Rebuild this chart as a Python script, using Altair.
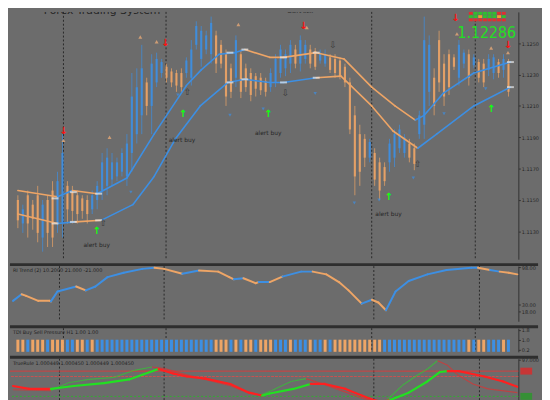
import altair as alt
import pandas as pd

# ---------------- colours / sizes ----------------
BG = "#6c6c6c"
BLUE = "#3d8fe3"
ORANGE = "#eea566"
RED = "#ff2020"
GREEN = "#22e022"
DARK = "#2e2e2e"
W = 516
H1, H2, H3, H4 = 251, 56, 24, 42

# ---------------- price candles (bar index 0..99) ----------------
highs = [1.1153, 1.1147, 1.1156, 1.1150, 1.1159, 1.1150, 1.1153, 1.1162, 1.1168, 1.1192,
         1.1162, 1.1159, 1.1156, 1.1153, 1.1153, 1.1156, 1.1162, 1.1180, 1.1183, 1.1180,
         1.1177, 1.1183, 1.1192, 1.1231, 1.1234, 1.1249, 1.1228, 1.1243, 1.1244, 1.1240,
         1.1237, 1.1234, 1.1233, 1.1234, 1.1241, 1.1252, 1.1264, 1.1261, 1.1258, 1.1267,
         1.1258, 1.1252, 1.1246, 1.1237, 1.1255, 1.1246, 1.1237, 1.1234, 1.1231, 1.1231,
         1.1228, 1.1234, 1.1243, 1.1249, 1.1246, 1.1252, 1.1249, 1.1255, 1.1252, 1.1249,
         1.1247, 1.1246, 1.1246, 1.1243, 1.1243, 1.1241, 1.1237, 1.1228, 1.1210, 1.1198,
         1.1192, 1.1189, 1.1183, 1.1177, 1.1174, 1.1189, 1.1195, 1.1198, 1.1192, 1.1189,
         1.1186, 1.1207, 1.1267, 1.1255, 1.1234, 1.1258, 1.1243, 1.1246, 1.1243, 1.1252,
         1.1246, 1.1246, 1.1243, 1.1240, 1.1240, 1.1243, 1.1243, 1.1240, 1.1243, 1.1240]
lows = [1.1132, 1.1129, 1.1126, 1.1131, 1.1123, 1.1117, 1.1120, 1.1120, 1.1129, 1.1126,
        1.1135, 1.1135, 1.1135, 1.1138, 1.1135, 1.1141, 1.1144, 1.1150, 1.1153, 1.1159,
        1.1162, 1.1165, 1.1159, 1.1168, 1.1186, 1.1192, 1.1204, 1.1192, 1.1222, 1.1228,
        1.1225, 1.1222, 1.1219, 1.1219, 1.1228, 1.1223, 1.1246, 1.1235, 1.1243, 1.1237,
        1.1231, 1.1234, 1.1210, 1.1215, 1.1222, 1.1215, 1.1219, 1.1213, 1.1216, 1.1217,
        1.1216, 1.1219, 1.1222, 1.1228, 1.1229, 1.1231, 1.1234, 1.1232, 1.1237, 1.1234,
        1.1233, 1.1237, 1.1235, 1.1231, 1.1228, 1.1227, 1.1222, 1.1192, 1.1153, 1.1159,
        1.1171, 1.1174, 1.1159, 1.1150, 1.1159, 1.1168, 1.1171, 1.1180, 1.1177, 1.1174,
        1.1169, 1.1189, 1.1189, 1.1210, 1.1204, 1.1219, 1.1210, 1.1217, 1.1233, 1.1223,
        1.1234, 1.1223, 1.1234, 1.1225, 1.1222, 1.1229, 1.1227, 1.1228, 1.1228, 1.1216]
opens = [1.1150, 1.1135, 1.1153, 1.1147, 1.1153, 1.1126, 1.1150, 1.1156, 1.1135, 1.1135,
         1.1159, 1.1155, 1.1153, 1.1151, 1.1150, 1.1144, 1.1150, 1.1156, 1.1159, 1.1163,
         1.1165, 1.1168, 1.1165, 1.1180, 1.1192, 1.1204, 1.1225, 1.1210, 1.1225, 1.1231,
         1.1235, 1.1232, 1.1231, 1.1231, 1.1231, 1.1228, 1.1249, 1.1240, 1.1246, 1.1243,
         1.1255, 1.1249, 1.1243, 1.1234, 1.1228, 1.1243, 1.1234, 1.1231, 1.1229, 1.1228,
         1.1226, 1.1222, 1.1225, 1.1231, 1.1234, 1.1237, 1.1246, 1.1237, 1.1240, 1.1246,
         1.1245, 1.1239, 1.1237, 1.1241, 1.1240, 1.1239, 1.1235, 1.1225, 1.1204, 1.1192,
         1.1189, 1.1177, 1.1180, 1.1174, 1.1171, 1.1174, 1.1177, 1.1183, 1.1180, 1.1186,
         1.1183, 1.1192, 1.1198, 1.1219, 1.1228, 1.1252, 1.1237, 1.1243, 1.1241, 1.1228,
         1.1237, 1.1243, 1.1236, 1.1238, 1.1237, 1.1233, 1.1231, 1.1238, 1.1233, 1.1237]
closes = [1.1137, 1.1144, 1.1135, 1.1138, 1.1129, 1.1147, 1.1129, 1.1126, 1.1162, 1.1180,
          1.1144, 1.1143, 1.1141, 1.1143, 1.1141, 1.1153, 1.1159, 1.1174, 1.1177, 1.1174,
          1.1174, 1.1180, 1.1186, 1.1216, 1.1222, 1.1234, 1.1210, 1.1237, 1.1240, 1.1238,
          1.1228, 1.1225, 1.1223, 1.1222, 1.1239, 1.1246, 1.1261, 1.1258, 1.1255, 1.1263,
          1.1237, 1.1237, 1.1216, 1.1219, 1.1252, 1.1219, 1.1222, 1.1217, 1.1221, 1.1220,
          1.1219, 1.1231, 1.1240, 1.1246, 1.1243, 1.1249, 1.1237, 1.1252, 1.1249, 1.1237,
          1.1235, 1.1244, 1.1243, 1.1233, 1.1231, 1.1229, 1.1225, 1.1195, 1.1165, 1.1168,
          1.1177, 1.1187, 1.1163, 1.1156, 1.1162, 1.1186, 1.1192, 1.1195, 1.1190, 1.1177,
          1.1173, 1.1204, 1.1252, 1.1249, 1.1210, 1.1225, 1.1216, 1.1222, 1.1235, 1.1249,
          1.1244, 1.1228, 1.1241, 1.1228, 1.1225, 1.1240, 1.1241, 1.1231, 1.1240, 1.1219]
price_ticks = [1.1130, 1.1140, 1.1150, 1.1160, 1.1170, 1.1180, 1.1190, 1.1200,
               1.1210, 1.1220, 1.1230, 1.1240, 1.1250, 1.1260]
day_breaks = [9.2, 29.9, 71.4, 92.3]

# bands: vertices + colour of each segment (B blue / O orange)
ub_i = [0, 8, 11, 16, 22, 27.5, 34, 37, 40.6, 43.7, 45.8, 50.8, 53.6, 60.2, 65.8, 71.4, 76.1, 80.2, 82, 85.8, 92, 99.4]
ub_v = [1.1156, 1.1152, 1.1156, 1.1154, 1.1164, 1.1192, 1.1223, 1.1233, 1.1243, 1.1244, 1.1246,
        1.1241, 1.1241, 1.1244, 1.1240, 1.1222, 1.1210, 1.1201, 1.1204, 1.1218, 1.1231, 1.1238]
ub_c = "OBOBBBBBBBOOOOOOOBBBB"
lb_i = [0, 8, 11.6, 16.8, 23.2, 27.5, 31.8, 36.8, 42.4, 45.8, 50.8, 53.6, 60.2, 65.2, 71.4, 75.7, 80.7, 84.5, 92, 99.4]
lb_v = [1.1141, 1.1135, 1.1136, 1.1137, 1.1147, 1.1165, 1.1189, 1.1210, 1.1225, 1.1227,
        1.1225, 1.1225, 1.1228, 1.1229, 1.1210, 1.1194, 1.1183, 1.1192, 1.1210, 1.1222]
lb_c = "OBOBBBBBBBBBOOOOBBB"
white_i = [7.5, 11.2, 16.3, 42.8, 45.8, 53.6, 60.2, 99.4, 7.5, 11.2, 16.3, 42.8, 45.8, 53.6, 60.2, 99.4]
white_v = [1.1151, 1.1155, 1.1154, 1.1244, 1.1246, 1.1241, 1.1244, 1.1238,
           1.1135, 1.1136, 1.1137, 1.1225, 1.1227, 1.1225, 1.1228, 1.1222]

# signal markers
tan_i = [24.7, 28, 44.5, 58.3, 88.6, 95.5, 98.9, 9.2, 18.5]
tan_v = [1.1254, 1.1251, 1.1262, 1.1260, 1.1256, 1.1247, 1.1244, 1.1188, 1.1190]
bdn_i = [32.3, 42.8, 49.5, 60, 86, 94.4, 22.8, 67.9, 72.9, 79.8]
bdn_v = [1.1217, 1.1204, 1.1208, 1.1218, 1.1205, 1.1221, 1.1155, 1.1148, 1.1150, 1.1164]
red_i = [9.2, 29.7, 57.6, 88.3, 98.9]
red_v = [1.1194, 1.1250, 1.1261, 1.1266, 1.1249]
grn_i = [15.9, 33.3, 50.5, 74.8, 95.5]
grn_v = [1.1130, 1.1205, 1.1205, 1.1152, 1.1208]
alert_i = [15.9, 33.1, 50.5, 74.8]
alert_v = [1.1121, 1.1188, 1.1193, 1.1141]
hol_i = [17.2, 34.2, 54, 63.6, 80.7]
hol_v = [1.1135, 1.1219, 1.1218, 1.1249, 1.1173]
hol_t = ["⇧", "⇧", "⇩", "⇩", "⇧"]
last_price = "1.12286"

# status grid (3 rows x 8 cells) top-right
cell_x0 = [91.0, 91.95, 92.9, 93.85, 94.8, 95.75, 96.7, 97.65]
row_top = [1.12700, 1.12679, 1.12658]
row_bot = [1.12682, 1.12661, 1.12640]
cell_cols = [["#e03030", "#30c030", "#30c030", "#30c030", "#30c030", "#30c030", "#e03030", "#e03030"],
             ["#30c030", "#30c030", "#f0a030", "#30c030", "#30c030", "#30c030", "#f0a030", "#30c030"],
             ["#e03030", "#e03030", "#e03030", "#e03030", "#e03030", "#e03030", "#e03030", "#e03030"]]

# ---------------- sub-window 1: trend line ----------------
p2_i = [0, 1.7, 2.6, 5, 7.3, 7.5, 8.8, 12.5, 14.4, 16.3, 18.7, 21.9, 25.6, 28, 29.9, 33.5, 36.8, 40.6,
        42.8, 43.7, 45.6, 48, 48.6, 50.8, 53.3, 57, 59.3, 62, 64.5, 66.4, 69, 71, 72.3, 73.8, 75.7, 78.3,
        82, 85.8, 90.7, 92, 94.4, 96.3, 98.1, 99.8]
p2_v = [37, 49, 46, 37, 37, 36, 54, 63, 56, 63, 80, 88, 95, 97, 95, 86, 92, 90, 80, 76, 78, 69, 71, 71,
        81, 90, 90, 85, 71, 56, 32, 39, 34, 20, 54, 73, 85, 93, 97, 97, 93, 90, 88, 85]
p2_c = "BOOOOBBOBBBBBOOBOOOBOOBOBBOOOOBOOBBBBBBOBOO"

# ---------------- sub-window 2: buy/sell pressure ----------------
press = ("OOBOOOBOOO" "BBOOBOBBBB" "BBBBBBBBBB" "BBBBBBBBBB" "OOOBOBOOBO"
         "OOBBBOBBBO" "BBOBOOOOOO" "OOOOBBBBBB" "BBBBBBBBBB" "BOBOOBBBOB")

# ---------------- sub-window 3: oscillator ----------------
p4_i = [0, 3.2, 7.5, 12, 18, 23, 25.6, 28.8, 31.8, 34.4, 38.1, 43, 46.7, 49.3, 50.8, 55.5, 58.9, 61.7,
        65.8, 69, 71.4, 73.3, 74.6, 78.3, 82, 84.5, 86, 88.2, 93.3, 97, 99.8]
p4_v = [34, 27, 27, 34, 41, 50, 61, 75, 64, 57, 52, 39, 18, 11, 16, 27, 39, 39, 27, 11, 0, -5, 0, 18,
        45, 68, 70, 70, 57, 45, 32]
p4_c = "RRGGGGGRRRRRRGGGRRRRRRGGGGRRRR"
f_i = [0, 7.5, 11, 15, 20, 24, 27.5, 30, 34, 38, 43, 46, 49, 51, 55, 58, 61, 65, 69, 72, 74, 77, 80,
       82, 84, 86, 88, 91, 94, 99.8]
f_v = [25, 23, 42, 50, 55, 72, 80, 76, 62, 50, 35, 20, 12, 22, 45, 52, 40, 23, 5, -5, 0, 35, 60, 75,
       95, 84, 61, 39, 27, 18]
f_c = "RGGGGGRRRRRRGGGRRRRRGGGGRRRRR"
levels = [70, 57, 9]

# ---------------- helpers ----------------
CMAP = {"B": BLUE, "O": ORANGE, "R": RED, "G": GREEN}
xs = alt.Scale(domain=[-0.6, 100], nice=False, zero=False)


def X(f="i"):
    return alt.X(f + ":Q", scale=xs, axis=None)


def seg_table(xv, yv, cv):
    rows = []
    for k, c in enumerate(cv):
        for j in (k, k + 1):
            rows.append({"i": xv[j], "v": yv[j], "seg": k, "c": CMAP[c]})
    return pd.DataFrame(rows)


def axis(values, fmt):
    return alt.Axis(orient="right", values=values, format=fmt, title=None, grid=False,
                    labelFontSize=5, labelColor="#262626", tickSize=2, tickColor="#333",
                    domainColor="#333", labelPadding=1, labelFont="DejaVu Sans")


def day_rules(ys):
    return alt.Chart(pd.DataFrame({"i": day_breaks})).mark_rule(
        color="#2a2a2a", strokeDash=[2, 2], strokeWidth=1).encode(x=X())


def separator():
    return alt.Chart(pd.DataFrame({"a": [0]})).mark_rule(color=DARK, strokeWidth=3).encode(
        x=alt.value(0), x2=alt.value(W + 20), y=alt.value(-1.5))


def label(txt):
    return alt.Chart(pd.DataFrame({"t": [txt]})).mark_text(
        align="left", baseline="top", fontSize=5, color="#222", font="DejaVu Sans").encode(
        x=alt.value(3), y=alt.value(2), text="t:N")


# ---------------- main price panel ----------------
ys1 = alt.Scale(domain=[1.11122, 1.1270], nice=False, zero=False)
cd = pd.DataFrame({"i": list(range(100)), "open": opens, "close": closes, "high": highs, "low": lows})
cd["dir"] = ["up" if c > o else "down" for o, c in zip(opens, closes)]
ccol = alt.Color("dir:N", scale=alt.Scale(domain=["up", "down"], range=[BLUE, ORANGE]), legend=None)

wicks = alt.Chart(cd).mark_rule(strokeWidth=1, opacity=0.7).encode(
    x=X(), y=alt.Y("low:Q", scale=ys1, axis=axis(price_ticks, ".4f")), y2="high:Q", color=ccol)
bodies = alt.Chart(cd).mark_bar(size=2.2, opacity=0.85).encode(
    x=X(), y=alt.Y("open:Q", scale=ys1), y2="close:Q", color=ccol)


def band(xv, yv, cv, sw=1.6):
    return alt.Chart(seg_table(xv, yv, cv)).mark_line(strokeWidth=sw, strokeCap="round").encode(
        x=X(), y=alt.Y("v:Q", scale=ys1), detail="seg:N", color=alt.Color("c:N", scale=None))


whites = alt.Chart(pd.DataFrame({"i": white_i, "v": white_v})).mark_tick(
    orient="horizontal", size=7, thickness=2, color="#e8e8e8").encode(x=X(), y=alt.Y("v:Q", scale=ys1))

tans = alt.Chart(pd.DataFrame({"i": tan_i, "v": tan_v})).mark_point(
    shape="triangle-up", filled=True, size=16, color="#d9a276", opacity=0.9).encode(
    x=X(), y=alt.Y("v:Q", scale=ys1))
bdns = alt.Chart(pd.DataFrame({"i": bdn_i, "v": bdn_v})).mark_point(
    shape="triangle-down", filled=True, size=12, color=BLUE).encode(x=X(), y=alt.Y("v:Q", scale=ys1))
reds = alt.Chart(pd.DataFrame({"i": red_i, "v": red_v, "t": ["↓"] * len(red_i)})).mark_text(
    fontSize=10, fontWeight="bold", color="#ff1010", font="DejaVu Sans").encode(
    x=X(), y=alt.Y("v:Q", scale=ys1), text="t:N")
grns = alt.Chart(pd.DataFrame({"i": grn_i, "v": grn_v, "t": ["↑"] * len(grn_i)})).mark_text(
    fontSize=10, fontWeight="bold", color="#10ff10", font="DejaVu Sans").encode(
    x=X(), y=alt.Y("v:Q", scale=ys1), text="t:N")
alerts = alt.Chart(pd.DataFrame({"i": alert_i, "v": alert_v, "t": ["alert buy"] * len(alert_i)})).mark_text(
    fontSize=6, color="#262626", font="DejaVu Sans").encode(x=X(), y=alt.Y("v:Q", scale=ys1), text="t:N")
hollow = alt.Chart(pd.DataFrame({"i": hol_i, "v": hol_v, "t": hol_t})).mark_text(
    fontSize=9, color="#3a3a3a", font="DejaVu Sans").encode(x=X(), y=alt.Y("v:Q", scale=ys1), text="t:N")
tops = alt.Chart(pd.DataFrame({"i": [17.0, 57.0], "v": [1.12705, 1.12705],
                               "t": ["Forex Trading System", "alert sell"], "s": [11, 6]})).mark_text(
    baseline="middle", color="#262626", font="DejaVu Sans", clip=True).encode(
    x=X(), y=alt.Y("v:Q", scale=ys1), text="t:N", size=alt.Size("s:Q", scale=None, legend=None))

cells = []
for r in range(3):
    for c in range(8):
        cells.append({"x0": cell_x0[c], "x1": cell_x0[c] + 0.8, "y0": row_top[r], "y1": row_bot[r],
                      "col": cell_cols[r][c]})
grid = alt.Chart(pd.DataFrame(cells)).mark_rect().encode(
    x=alt.X("x0:Q", scale=xs, axis=None), x2="x1:Q", y=alt.Y("y0:Q", scale=ys1), y2="y1:Q",
    color=alt.Color("col:N", scale=None))
bigprice = alt.Chart(pd.DataFrame({"i": [94.6], "v": [1.12565], "t": [last_price]})).mark_text(
    fontSize=16, color="#22e022", font="DejaVu Sans Condensed, Liberation Sans Narrow, sans-serif").encode(
    x=X(), y=alt.Y("v:Q", scale=ys1), text="t:N")

main = alt.layer(day_rules(ys1), wicks, bodies, band(ub_i, ub_v, ub_c), band(lb_i, lb_v, lb_c),
                 whites, tans, bdns, reds, grns, alerts, hollow, tops, grid, bigprice).properties(
    width=W, height=H1)

# ---------------- panel 2 ----------------
ys2 = alt.Scale(domain=[0, 100], nice=False)
t2 = seg_table(p2_i, p2_v, p2_c)
line2 = alt.Chart(t2).mark_line(strokeWidth=2, strokeCap="round").encode(
    x=X(), y=alt.Y("v:Q", scale=ys2, axis=axis([98, 30, 18], ".2f")), detail="seg:N",
    color=alt.Color("c:N", scale=None))
panel2 = alt.layer(day_rules(ys2), line2, label("RI Trend (2) 10.2000 21.000 -21.000"),
                   separator()).properties(width=W, height=H2)

# ---------------- panel 3 ----------------
ys3 = alt.Scale(domain=[0, 1.95], nice=False)
pdf = pd.DataFrame({"i": list(range(100)), "h": [1.0] * 100, "c": [CMAP[ch] for ch in press]})
bars3 = alt.Chart(pdf).mark_bar(size=3).encode(
    x=X(), y=alt.Y("h:Q", scale=ys3, axis=axis([0.2, 1.0, 1.8], ".1f")), color=alt.Color("c:N", scale=None))
panel3 = alt.layer(day_rules(ys3), bars3, label("TDI Buy Sell Pressure H1 1.00 1.00"),
                   separator()).properties(width=W, height=H3)

# ---------------- panel 4 ----------------
ys4 = alt.Scale(domain=[0, 100], nice=False)
lv = pd.DataFrame({"v": levels, "c": ["#e03a3a", "#c85050", "#30b030"], "d": ["s", "f", "d"]})
lvl = alt.Chart(lv).mark_rule(strokeWidth=1).encode(
    y=alt.Y("v:Q", scale=ys4, axis=axis([97], ".3f")), color=alt.Color("c:N", scale=None),
    strokeDash=alt.StrokeDash("d:N", scale=alt.Scale(domain=["s", "f", "d"],
                                                     range=[[1, 0], [3, 1], [2, 2]]), legend=None))
faint = alt.Chart(seg_table(f_i, f_v, f_c)).mark_line(strokeWidth=1.2, opacity=0.55, clip=True).encode(
    x=X(), y=alt.Y("v:Q", scale=ys4), detail="seg:N", color=alt.Color("c:N", scale=None))
main4 = alt.Chart(seg_table(p4_i, p4_v, p4_c)).mark_line(strokeWidth=2.2, clip=True, strokeCap="round").encode(
    x=X(), y=alt.Y("v:Q", scale=ys4), detail="seg:N", color=alt.Color("c:N", scale=None))
boxes = alt.Chart(pd.DataFrame({"v": [70, 9], "c": ["#ee2020", "#20a020"]})).mark_tick(
    orient="horizontal", size=12, thickness=7).encode(
    x=alt.value(W + 8), y=alt.Y("v:Q", scale=ys4), color=alt.Color("c:N", scale=None))
panel4 = alt.layer(day_rules(ys4), lvl, faint, main4, boxes,
                   label("TrueRule 1.000449 1.000450 1.000449 1.000450"),
                   separator()).properties(width=W, height=H4)

chart = alt.vconcat(main, panel2, panel3, panel4, spacing=3).properties(
    background=BG, padding={"left": 0, "top": 0, "right": 2, "bottom": 0}
).configure_view(stroke=None)

chart.save("out.html", embed_options={"renderer": "svg", "actions": False})
